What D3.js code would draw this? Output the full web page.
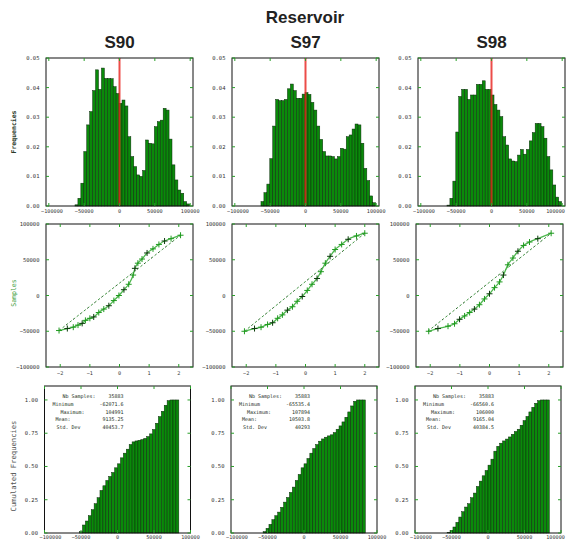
<!DOCTYPE html>
<html><head><meta charset="utf-8">
<script src="https://cdn.jsdelivr.net/npm/d3@7"></script>
<style>body{margin:0;background:#fff}</style>
</head><body>
<svg id="c" width="566" height="540"></svg>
<script>
// ---------------- data ----------------
const title = "Reservoir";
const seriesNames = ["S90", "S97", "S98"];

// histogram bins (frequencies)
const histBinStart = -63000, histBinWidth = 4160;
const histS90 = [0.0004,0.0026,0.0077,0.0184,0.0274,0.0319,0.039,0.046,0.0394,0.0466,0.0431,0.0431,0.043,0.0403,0.038,0.0347,0.0358,0.0338,0.0234,0.0167,0.0133,0.0105,0.010,0.012,0.0223,0.0212,0.021,0.0268,0.0285,0.029,0.033,0.0324,0.0226,0.0139,0.0088,0.0054,0.0043,0.0015,0.0007];
const histS97 = [0.0015,0.0045,0.0074,0.016,0.027,0.036,0.0356,0.0356,0.036,0.0396,0.0412,0.039,0.0364,0.0364,0.0378,0.0383,0.0377,0.035,0.0324,0.027,0.0225,0.0184,0.0169,0.0169,0.0167,0.0159,0.0167,0.0195,0.0192,0.0234,0.024,0.026,0.0277,0.0274,0.0212,0.0127,0.0086,0.0034,0.0011];
const histS98 = [0.0003,0.0026,0.0084,0.025,0.037,0.0394,0.0394,0.036,0.0375,0.0375,0.0411,0.0411,0.0423,0.0394,0.0394,0.0375,0.0343,0.0324,0.0302,0.0234,0.0206,0.0159,0.0152,0.015,0.0172,0.0191,0.0175,0.0191,0.022,0.0248,0.0279,0.0279,0.0268,0.0229,0.0167,0.0122,0.0071,0.003,0.0015];

// cumulated frequencies
const cumBinStart = -56000, cumBinWidth = 4000;
const cumS90 = [0,0.01,0.06,0.09,0.13,0.175,0.22,0.265,0.32,0.355,0.395,0.425,0.455,0.49,0.52,0.565,0.60,0.63,0.665,0.685,0.692,0.697,0.702,0.711,0.725,0.745,0.778,0.825,0.875,0.915,0.96,0.995,1.0,1.0,1.0];
const cumS97 = [0.01,0.035,0.065,0.10,0.13,0.157,0.193,0.232,0.267,0.305,0.345,0.395,0.44,0.49,0.52,0.56,0.60,0.635,0.665,0.69,0.707,0.72,0.73,0.738,0.755,0.78,0.805,0.835,0.87,0.91,0.955,0.99,1.0,1.0,1.0];
const cumS98 = [0.005,0.02,0.045,0.08,0.12,0.16,0.195,0.22,0.265,0.30,0.35,0.39,0.43,0.47,0.51,0.555,0.615,0.652,0.675,0.692,0.706,0.722,0.742,0.763,0.78,0.81,0.845,0.876,0.91,0.945,0.975,0.995,1.0,1.0,1.0];

// normal quantile plot points [theoretical quantile, sample]
const qqS90 = [[-2.04,-49000],[-1.76,-46200],[-1.56,-44300],[-1.40,-41400],[-1.26,-39000],[-1.15,-34800],[-1.0,-31900],[-0.87,-30000],[-0.70,-23800],[-0.53,-19000],[-0.36,-14300],[-0.19,-7100],[-0.02,0],[0.15,8100],[0.31,15700],[0.46,28600],[0.52,38000],[0.62,45200],[0.76,51000],[0.93,59500],[1.13,65200],[1.33,71400],[1.52,76200],[1.74,79500],[2.06,84300]];
const qqS97 = [[-2.06,-50000],[-1.72,-46200],[-1.5,-44300],[-1.28,-40500],[-1.11,-38100],[-0.94,-31900],[-0.78,-27100],[-0.61,-20500],[-0.44,-15700],[-0.28,-8100],[-0.11,-1400],[0.06,7100],[0.22,15700],[0.39,23800],[0.52,33300],[0.67,45200],[0.83,54800],[1.0,64300],[1.22,71400],[1.44,78600],[1.72,83300],[2.0,87100]];
const qqS98 = [[-2.05,-50000],[-1.74,-46200],[-1.40,-42900],[-1.18,-39500],[-1.01,-33300],[-0.84,-28600],[-0.67,-23800],[-0.51,-19000],[-0.34,-12900],[-0.17,-4800],[0,2400],[0.17,11000],[0.34,19000],[0.47,28600],[0.62,42900],[0.79,52400],[0.96,61900],[1.15,70000],[1.35,74800],[1.63,79500],[2.08,87100]];
const refS90 = [[-2.04,-49000],[2.06,84300]];
const refS97 = [[-2.06,-50000],[2.0,87100]];
const refS98 = [[-2.08,-50000],[2.08,87100]];

// statistics
const statLabels = ["Nb Samples:", "Minimum", "Maximum:", "Mean:", "Std. Dev"];
const statsS90 = ["35883", "-62071.6", "104991", "9135.25", "40453.7"];
const statsS97 = ["35883", "-65535.4", "107894", "10503.8", "40293"];
const statsS98 = ["35883", "-66560.6", "106000", "9165.04", "40384.5"];

// ticks / labels
const histYTicks = [0, 0.01, 0.02, 0.03, 0.04, 0.05];
const valueTicks = [-100000, -50000, 0, 50000, 100000];
const qqXTicks = [-2, -1, 0, 1, 2];
const cumYTicks = [0, 0.25, 0.5, 0.75, 1];
const yLabels = ["Frequencies", "Samples", "Cumulated Frequencies"];

const hists = [histS90, histS97, histS98];
const cums = [cumS90, cumS97, cumS98];
const qqs = [qqS90, qqS97, qqS98];
const refs = [refS90, refS97, refS98];
const stats = [statsS90, statsS97, statsS98];

// ---------------- layout ----------------
const rows = [
  {y: 58, h: 148, x: [46, 232, 418], w: 147, lab: 6.7},
  {y: 224, h: 143, x: [46, 232, 416], w: 147, lab: 8.3},
  {y: 386, h: 147, x: [44.5, 231, 415], w: 146, lab: 5.9}
];
const GREEN = "#0a8a0a", EDGE = "#0c2a0c", TICK = "#2aa02a";
const svg = d3.select("#c");
const tickFont = "DejaVu Sans Mono, monospace";
const XLAB = 5.2, YLAB = 5.5;

svg.append("text").attr("x", 305).attr("y", 22.7).attr("text-anchor", "middle")
  .style("font-family", "Liberation Sans, Arial, sans-serif").style("font-weight", "bold")
  .style("font-size", "17px").attr("fill", "#222").text(title);

function frame(g, x, y, X0, Y0, W, H, xt, yt, xf, yf, labOff) {
  g.append("rect").attr("x", X0).attr("y", Y0).attr("width", W).attr("height", H)
    .attr("fill", "none").attr("stroke", "#111").attr("stroke-width", 1);
  xt.forEach(t => {
    const px = x(t);
    g.append("line").attr("x1", px).attr("x2", px).attr("y1", Y0 + H).attr("y2", Y0 + H - 3).attr("stroke", TICK);
    g.append("line").attr("x1", px).attr("x2", px).attr("y1", Y0).attr("y2", Y0 + 3).attr("stroke", TICK);
    const s = xf(t);
    const half = s.length * XLAB * 0.602 / 2;
    // keep edge labels clear of the neighbouring y labels and the page edge
    let lx = Math.max(px, X0 + half - 5);
    lx = Math.min(lx, 565 - half);
    g.append("text").attr("x", lx).attr("y", Y0 + H + labOff).attr("text-anchor", "middle")
      .style("font-family", tickFont).style("font-size", XLAB + "px").attr("fill", "#333").text(s);
  });
  yt.forEach(t => {
    const py = y(t);
    g.append("line").attr("x1", X0).attr("x2", X0 + 3).attr("y1", py).attr("y2", py).attr("stroke", TICK);
    g.append("line").attr("x1", X0 + W).attr("x2", X0 + W - 3).attr("y1", py).attr("y2", py).attr("stroke", TICK);
    g.append("text").attr("x", X0 - 6.5).attr("y", py + 2).attr("text-anchor", "end")
      .style("font-family", tickFont).style("font-size", YLAB + "px").attr("fill", "#333").text(yf(t));
  });
}

const fmtVal = d3.format("d");
const fmt2 = d3.format(".2f");

seriesNames.forEach((name, c) => {
  const r0 = rows[0];
  svg.append("text").attr("x", r0.x[c] + r0.w / 2).attr("y", 48.3).attr("text-anchor", "middle")
    .style("font-family", "Liberation Sans, Arial, sans-serif").style("font-weight", "bold")
    .style("font-size", "17px").attr("fill", "#222").text(name);

  // ---- histogram ----
  {
    const X0 = r0.x[c], Y0 = r0.y, W = r0.w, H = r0.h;
    const x = d3.scaleLinear().domain([-104000, 104000]).range([X0, X0 + W]);
    const y = d3.scaleLinear().domain([0, 0.05]).range([Y0 + H, Y0]);
    const g = svg.append("g");
    g.selectAll("rect.bar").data(hists[c]).join("rect").attr("class", "bar")
      .attr("x", (d, i) => x(histBinStart + i * histBinWidth))
      .attr("width", (d, i) => x(histBinStart + (i + 1) * histBinWidth) - x(histBinStart + i * histBinWidth))
      .attr("y", d => y(d)).attr("height", d => y(0) - y(d))
      .attr("fill", GREEN).attr("stroke", EDGE).attr("stroke-width", 0.5);
    g.append("line").attr("x1", x(0)).attr("x2", x(0)).attr("y1", Y0).attr("y2", Y0 + H)
      .attr("stroke", "#e8201c").attr("stroke-width", 2).attr("opacity", 0.8);
    frame(g, x, y, X0, Y0, W, H, valueTicks, histYTicks, fmtVal, fmt2, r0.lab);
  }

  // ---- quantile plot ----
  {
    const r = rows[1];
    const X0 = r.x[c], Y0 = r.y, W = r.w, H = r.h;
    const x = d3.scaleLinear().domain([-2.48, 2.48]).range([X0, X0 + W]);
    const y = d3.scaleLinear().domain([-100000, 100000]).range([Y0 + H, Y0]);
    const g = svg.append("g");
    const line = d3.line().x(d => x(d[0])).y(d => y(d[1]));
    g.append("path").attr("d", line(refs[c])).attr("fill", "none")
      .attr("stroke", "#2f8a2f").attr("stroke-width", 0.9).attr("stroke-dasharray", "2.5,2");
    g.append("path").attr("d", line(refs[c])).attr("fill", "none")
      .attr("stroke", "#222").attr("stroke-width", 0.6).attr("stroke-dasharray", "1,8");
    g.append("path").attr("d", d3.line().curve(d3.curveMonotoneX).x(d => x(d[0])).y(d => y(d[1]))(qqs[c]))
      .attr("fill", "none").attr("stroke", "#4fb84f").attr("stroke-width", 1.3);
    g.selectAll("path.pt").data(qqs[c]).join("path").attr("class", "pt")
      .attr("d", d => {
        const px = x(d[0]), py = y(d[1]);
        return `M${px - 3},${py}h6M${px},${py - 3}v6`;
      })
      .attr("stroke", (d, i) => i % 3 === 1 ? "#0c3a0c" : "#1f9a1f").attr("stroke-width", 1);
    frame(g, x, y, X0, Y0, W, H, qqXTicks, valueTicks, d3.format("d"), fmtVal, r.lab);
  }

  // ---- cumulated frequencies ----
  {
    const r = rows[2];
    const X0 = r.x[c], Y0 = r.y, W = r.w, H = r.h;
    const x = d3.scaleLinear().domain([-100000, 100000]).range([X0, X0 + W]);
    const y = d3.scaleLinear().domain([0, 1.105]).range([Y0 + H, Y0]);
    const g = svg.append("g");
    g.selectAll("rect.bar").data(cums[c]).join("rect").attr("class", "bar")
      .attr("x", (d, i) => x(cumBinStart + i * cumBinWidth))
      .attr("width", (d, i) => x(cumBinStart + (i + 1) * cumBinWidth) - x(cumBinStart + i * cumBinWidth))
      .attr("y", d => y(d)).attr("height", d => y(0) - y(d))
      .attr("fill", GREEN).attr("stroke", EDGE).attr("stroke-width", 0.5);
    frame(g, x, y, X0, Y0, W, H, valueTicks, cumYTicks, fmtVal, fmt2, r.lab);
    const lx = [18, 8, 16, 11, 12];
    statLabels.forEach((lab, i) => {
      const by = Y0 + 12 + 7.8 * i;
      g.append("text").attr("x", X0 + lx[i]).attr("y", by)
        .style("font-family", tickFont).style("font-size", "5px").attr("fill", "#1c2e1c").text(lab);
      g.append("text").attr("x", X0 + 79).attr("y", by).attr("text-anchor", "end")
        .style("font-family", tickFont).style("font-size", "5px").attr("fill", "#1c2e1c").text(stats[c][i]);
    });
  }
});

// y-axis labels (first column only)
const ylabStyle = [
  {cy: 132, size: 6.5, weight: "bold", fill: "#2a3a2a"},
  {cy: 293, size: 6.5, weight: "normal", fill: "#3a9a3a"},
  {cy: 466, size: 7.2, weight: "normal", fill: "#555"}
];
yLabels.forEach((t, i) => {
  const s = ylabStyle[i];
  svg.append("text").attr("transform", `translate(16,${s.cy}) rotate(-90)`).attr("text-anchor", "middle")
    .style("font-family", tickFont).style("font-size", s.size + "px").style("font-weight", s.weight)
    .attr("fill", s.fill).text(t);
});
</script>
</body></html>
